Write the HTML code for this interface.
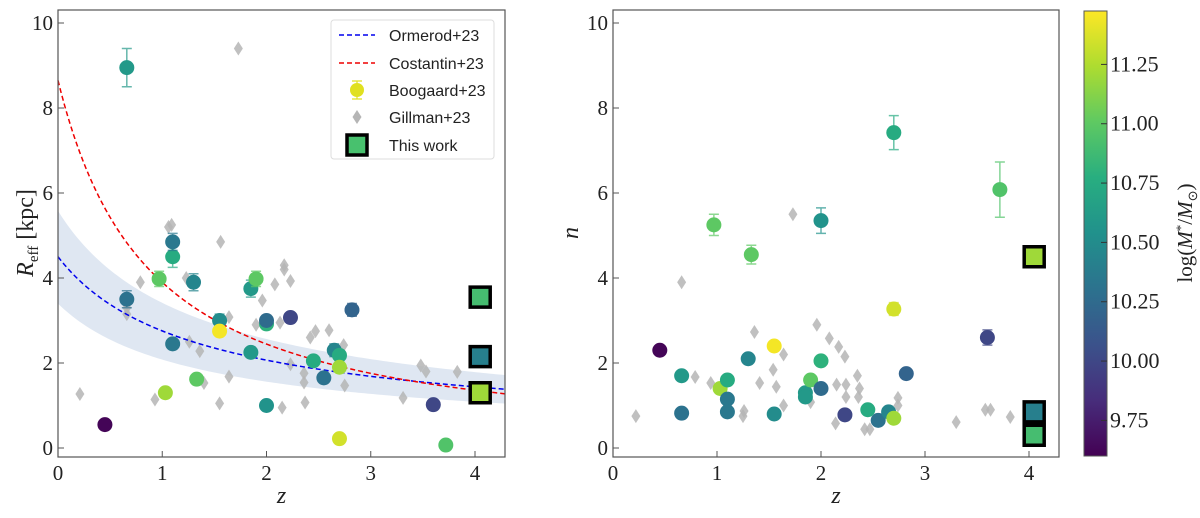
<!DOCTYPE html>
<html><head><meta charset="utf-8">
<style>
body{margin:0;background:#fff;width:1200px;height:513px;overflow:hidden}
svg text{font-family:"Liberation Serif",serif}
</style></head>
<body>
<svg id="fig" width="1200" height="513" viewBox="0 0 1200 513" xmlns="http://www.w3.org/2000/svg">
<defs>
<linearGradient id="vir" x1="0" y1="1" x2="0" y2="0">
<stop offset="0" stop-color="#440154"/><stop offset="0.125" stop-color="#472d7b"/><stop offset="0.25" stop-color="#3b528b"/><stop offset="0.375" stop-color="#2c728e"/><stop offset="0.5" stop-color="#21918c"/><stop offset="0.625" stop-color="#28ae80"/><stop offset="0.75" stop-color="#5ec962"/><stop offset="0.875" stop-color="#addc30"/><stop offset="1" stop-color="#fde725"/>
</linearGradient>
</defs>
<g id="left"></g>
<g id="right"></g>
<g id="cbar"></g>
</svg>
<script>
// galaxies: redshift, effective radius, sersic index, stellar mass
const galZ =    [0.45,0.66,0.66,0.97,1.03,1.10,1.10,1.10,1.30,1.33,1.55,1.55,1.85,1.85,1.90,2.00,2.00,2.00,2.23,2.45,2.55,2.65,2.70,2.70,2.70,2.82,3.60,3.72];
const galR =    [0.55,8.95,3.50,3.98,1.30,4.50,4.85,2.45,3.90,1.62,3.00,2.75,3.75,2.25,3.98,1.00,2.92,3.00,3.07,2.05,1.65,2.30,2.18,0.22,1.90,3.25,1.02,0.07];
const galRerr = [0,0.45,0.2,0.18,0,0.25,0.2,0,0.2,0,0.15,0,0.2,0,0.18,0,0,0.12,0.1,0,0,0.15,0.12,0,0,0.15,0,0];
const galN =    [2.30,1.70,0.82,5.25,1.40,1.60,1.15,0.85,2.10,4.55,0.80,2.40,1.30,1.20,1.60,5.35,2.05,1.40,0.78,0.90,0.65,0.85,7.42,3.27,0.70,1.75,2.60,6.08];
const galNerr = [0,0,0,0.25,0,0,0,0,0,0.22,0,0,0,0,0,0.3,0,0,0,0,0,0,0.4,0.15,0,0,0.18,0.65];
const galM =    [9.62,10.6,10.3,11.0,11.2,10.75,10.35,10.35,10.45,11.0,10.5,11.45,10.6,10.6,11.0,10.55,10.8,10.25,10.0,10.75,10.3,10.45,10.75,11.35,11.2,10.2,10.0,10.95];
// this work
const twZ = [4.05,4.05,4.05];
const twR = [3.55,2.15,1.30];
const twN = [0.30,0.85,4.50];
const twM = [10.9,10.4,11.2];
// Gillman diamonds
const gilZL = [0.21,1.06,1.56,0.79,0.66,1.23,2.17,2.17,2.08,2.23,1.96,1.64,1.90,2.13,1.26,1.36,1.64,1.40,0.93,1.55,2.15,2.37,2.36,2.36,2.42,2.47,2.60,2.74,2.75,2.23,3.31,3.48,3.53,3.83,1.73,1.09,0.66];
const gilRL = [1.27,5.20,4.85,3.90,3.15,4.00,4.30,4.20,3.85,3.93,3.47,3.08,2.90,2.95,2.50,2.28,1.68,1.53,1.14,1.05,0.95,1.07,1.76,1.54,2.60,2.75,2.77,2.42,1.47,1.97,1.18,1.94,1.80,1.79,9.40,5.25,3.30];
const gilZR = [0.22,1.36,0.79,0.94,1.25,1.26,1.54,1.41,1.57,1.64,1.64,1.90,1.96,2.08,2.17,2.23,2.15,2.24,2.24,2.14,2.35,2.37,2.36,2.42,2.47,2.74,2.74,3.30,3.58,3.63,3.82,0.66,1.73,1.10];
const gilNR = [0.75,2.73,1.67,1.53,0.75,0.87,1.84,1.53,1.44,2.20,1.00,1.08,2.90,2.58,2.38,2.15,1.49,1.49,1.20,0.58,1.70,1.40,1.20,0.44,0.44,1.18,1.00,0.61,0.90,0.90,0.73,3.90,5.50,1.00];
const xTicks = [0,1,2,3,4];
const yTicks = [0,2,4,6,8,10];
const cTicks = [9.75,10.00,10.25,10.50,10.75,11.00,11.25];

const NS='http://www.w3.org/2000/svg';
function mk(parent,tag,attrs,txt){const e=document.createElementNS(NS,tag);for(const k in attrs)e.setAttribute(k,attrs[k]);if(txt!==undefined)e.textContent=txt;parent.appendChild(e);return e;}
const VS=[[0,[68,1,84]],[0.125,[71,45,123]],[0.25,[59,82,139]],[0.375,[44,114,142]],[0.5,[33,145,140]],[0.625,[40,174,128]],[0.75,[94,201,98]],[0.875,[173,220,48]],[1,[253,231,37]]];
const MMIN=9.6,MMAX=11.475;
function vir(m){let t=Math.max(0,Math.min(1,(m-MMIN)/(MMAX-MMIN)));for(let i=1;i<VS.length;i++){if(t<=VS[i][0]){const a=VS[i-1],b=VS[i];const f=(t-a[0])/(b[0]-a[0]);const c=a[1].map((v,j)=>Math.round(v+(b[1][j]-v)*f));return 'rgb('+c.join(',')+')';}}return 'rgb(253,231,37)';}

function panel(g,x0,ppu,right){
  const X=z=>x0+z*ppu, Y=v=>448-v*42.5;
  return {X,Y,left:x0,right,top:10,bottom:457};
}
function axes(g,p,ylabel,name){
  mk(g,'rect',{x:p.left,y:p.top,width:p.right-p.left,height:p.bottom-p.top,fill:'none',stroke:'#555','stroke-width':1.2,});
  xTicks.forEach(t=>{const x=p.X(t);
    const l=mk(g,'line',{x1:x,x2:x,y1:p.bottom,y2:p.bottom-6,stroke:'#555'});
    
    const tx=mk(g,'text',{x:x,y:p.bottom+23,'font-size':21,'text-anchor':'middle',fill:'#222'},String(t));
    });
  yTicks.forEach(t=>{const y=p.Y(t);
    const l=mk(g,'line',{x1:p.left,x2:p.left+6,y1:y,y2:y,stroke:'#555'});
    
    const tx=mk(g,'text',{x:p.left-5,y:y+7,'font-size':21,'text-anchor':'end',fill:'#222'},String(t));
    });
  const xl=mk(g,'text',{x:(p.left+p.right)/2,y:503,'font-size':24,'font-style':'italic','text-anchor':'middle',fill:'#222'},'z');
  
}
function circles(g,p,vals,errs,nm){
  galZ.forEach((z,i)=>{const c=vir(galM[i]);const x=p.X(z),y=p.Y(vals[i]);
    if(errs[i]>0){const e=mk(g,'path',{d:`M${x},${p.Y(vals[i]-errs[i])}V${p.Y(vals[i]+errs[i])}M${x-5},${p.Y(vals[i]-errs[i])}h10M${x-5},${p.Y(vals[i]+errs[i])}h10`,stroke:c,'stroke-opacity':0.7,'stroke-width':1.5,fill:'none'});
      }
    const ci=mk(g,'circle',{cx:x,cy:y,r:7.5,fill:c});
    });
}
function diamonds(g,p,zs,vs){
  zs.forEach((z,i)=>{const x=p.X(z),y=p.Y(vs[i]);
    const d=mk(g,'path',{d:`M${x},${y-7}L${x+4.5},${y}L${x},${y+7}L${x-4.5},${y}Z`,fill:'#b5b5b5','fill-opacity':0.85});
    });
}
function squares(g,p,vs){
  twZ.forEach((z,i)=>{const x=p.X(z),y=p.Y(vs[i]);
    const s=mk(g,'rect',{x:x-10,y:y-10,width:20,height:20,fill:vir(twM[i]),stroke:'#000','stroke-width':3.5});
    });
}

// LEFT
const L=document.getElementById('left');
const pl=panel(L,58,104.25,505);
const oA=4.5,oB=-0.708,cA=8.65,cB=-1.15;
let up='',lo='',ob='',cb='';
for(let z=0;z<=4.29;z+=0.03){const x=pl.X(z),o=oA*Math.pow(1+z,oB);up+=(up?'L':'M')+x+','+pl.Y(o*1.24);lo='L'+x+','+pl.Y(o*0.755)+lo;ob+=(ob?'L':'M')+x+','+pl.Y(o);cb+=(cb?'L':'M')+x+','+pl.Y(cA*Math.pow(1+z,cB));}
let e=mk(L,'path',{d:up+lo+'Z',fill:'#b0c4de','fill-opacity':0.4});

diamonds(L,pl,gilZL,gilRL);
e=mk(L,'path',{d:ob,fill:'none',stroke:'#0000ee','stroke-width':1.5,'stroke-dasharray':'5,3'});

e=mk(L,'path',{d:cb,fill:'none',stroke:'#ee0000','stroke-width':1.5,'stroke-dasharray':'5,3'});

circles(L,pl,galR,galRerr,'galaxy-point');
squares(L,pl,twR);
axes(L,pl,'','left');
e=mk(L,'text',{x:0,y:0,'font-size':24,'text-anchor':'middle',fill:'#222',transform:'translate(33,233) rotate(-90)'});
e.innerHTML='<tspan font-style="italic">R</tspan><tspan font-size="15" dy="5">eff</tspan><tspan dy="-5"> [kpc]</tspan>';

// legend
const lg=mk(L,'g',{});

mk(lg,'rect',{x:331,y:20,width:163,height:139,rx:3,fill:'#fff','fill-opacity':0.85,stroke:'#ddd'});
const lx=389,ly=[35,63,90,117,145];
const lt=['Ormerod+23','Costantin+23','Boogaard+23','Gillman+23','This work'];
mk(lg,'line',{x1:339,x2:375,y1:ly[0],y2:ly[0],stroke:'#0000ee','stroke-width':1.5,'stroke-dasharray':'5,3'});
mk(lg,'line',{x1:339,x2:375,y1:ly[1],y2:ly[1],stroke:'#ee0000','stroke-width':1.5,'stroke-dasharray':'5,3'});
mk(lg,'path',{d:`M357,${ly[2]-9}V${ly[2]+9}M352,${ly[2]-9}h10M352,${ly[2]+9}h10`,stroke:'#e0e020','stroke-width':1.2});
mk(lg,'circle',{cx:357,cy:ly[2],r:7,fill:'#e0e020'});
mk(lg,'path',{d:`M357,${ly[3]-7}L361.5,${ly[3]}L357,${ly[3]+7}L352.5,${ly[3]}Z`,fill:'#b5b5b5'});
mk(lg,'rect',{x:347,y:ly[4]-10,width:20,height:20,fill:'#48c16e',stroke:'#000','stroke-width':3.5});
lt.forEach((t,i)=>{const tx=mk(lg,'text',{x:lx,y:ly[i]+6,'font-size':16,fill:'#222',style:'font-family:"Liberation Sans",sans-serif'},t);
  });

// RIGHT
const R=document.getElementById('right');
const pr=panel(R,613,104,1059);
diamonds(R,pr,gilZR,gilNR);
circles(R,pr,galN,galNerr,'galaxy-point');
squares(R,pr,twN);
axes(R,pr,'','right');
e=mk(R,'text',{x:0,y:0,'font-size':24,'font-style':'italic','text-anchor':'middle',fill:'#222',transform:'translate(578,233) rotate(-90)'},'n');


// COLORBAR
const C=document.getElementById('cbar');
const cy=m=>456-(m-MMIN)/(MMAX-MMIN)*445;
e=mk(C,'rect',{x:1084,y:11,width:23,height:445,fill:'url(#vir)',stroke:'#555'});

cTicks.forEach(t=>{const y=cy(t);
  const l=mk(C,'line',{x1:1101,x2:1107,y1:y,y2:y,stroke:'#333'});
  
  const tx=mk(C,'text',{x:1110,y:y+7,'font-size':22,fill:'#222'},t.toFixed(2));
  });
e=mk(C,'text',{x:0,y:0,'font-size':21,'text-anchor':'middle',fill:'#222',transform:'translate(1192,233) rotate(-90)'});
e.innerHTML='log(<tspan font-style="italic">M</tspan><tspan font-size="13" dy="-7">*</tspan><tspan dy="7">/</tspan><tspan font-style="italic">M</tspan><tspan font-size="13" dy="5">⊙</tspan><tspan dy="-5">)</tspan>';

</script>
</body></html>
